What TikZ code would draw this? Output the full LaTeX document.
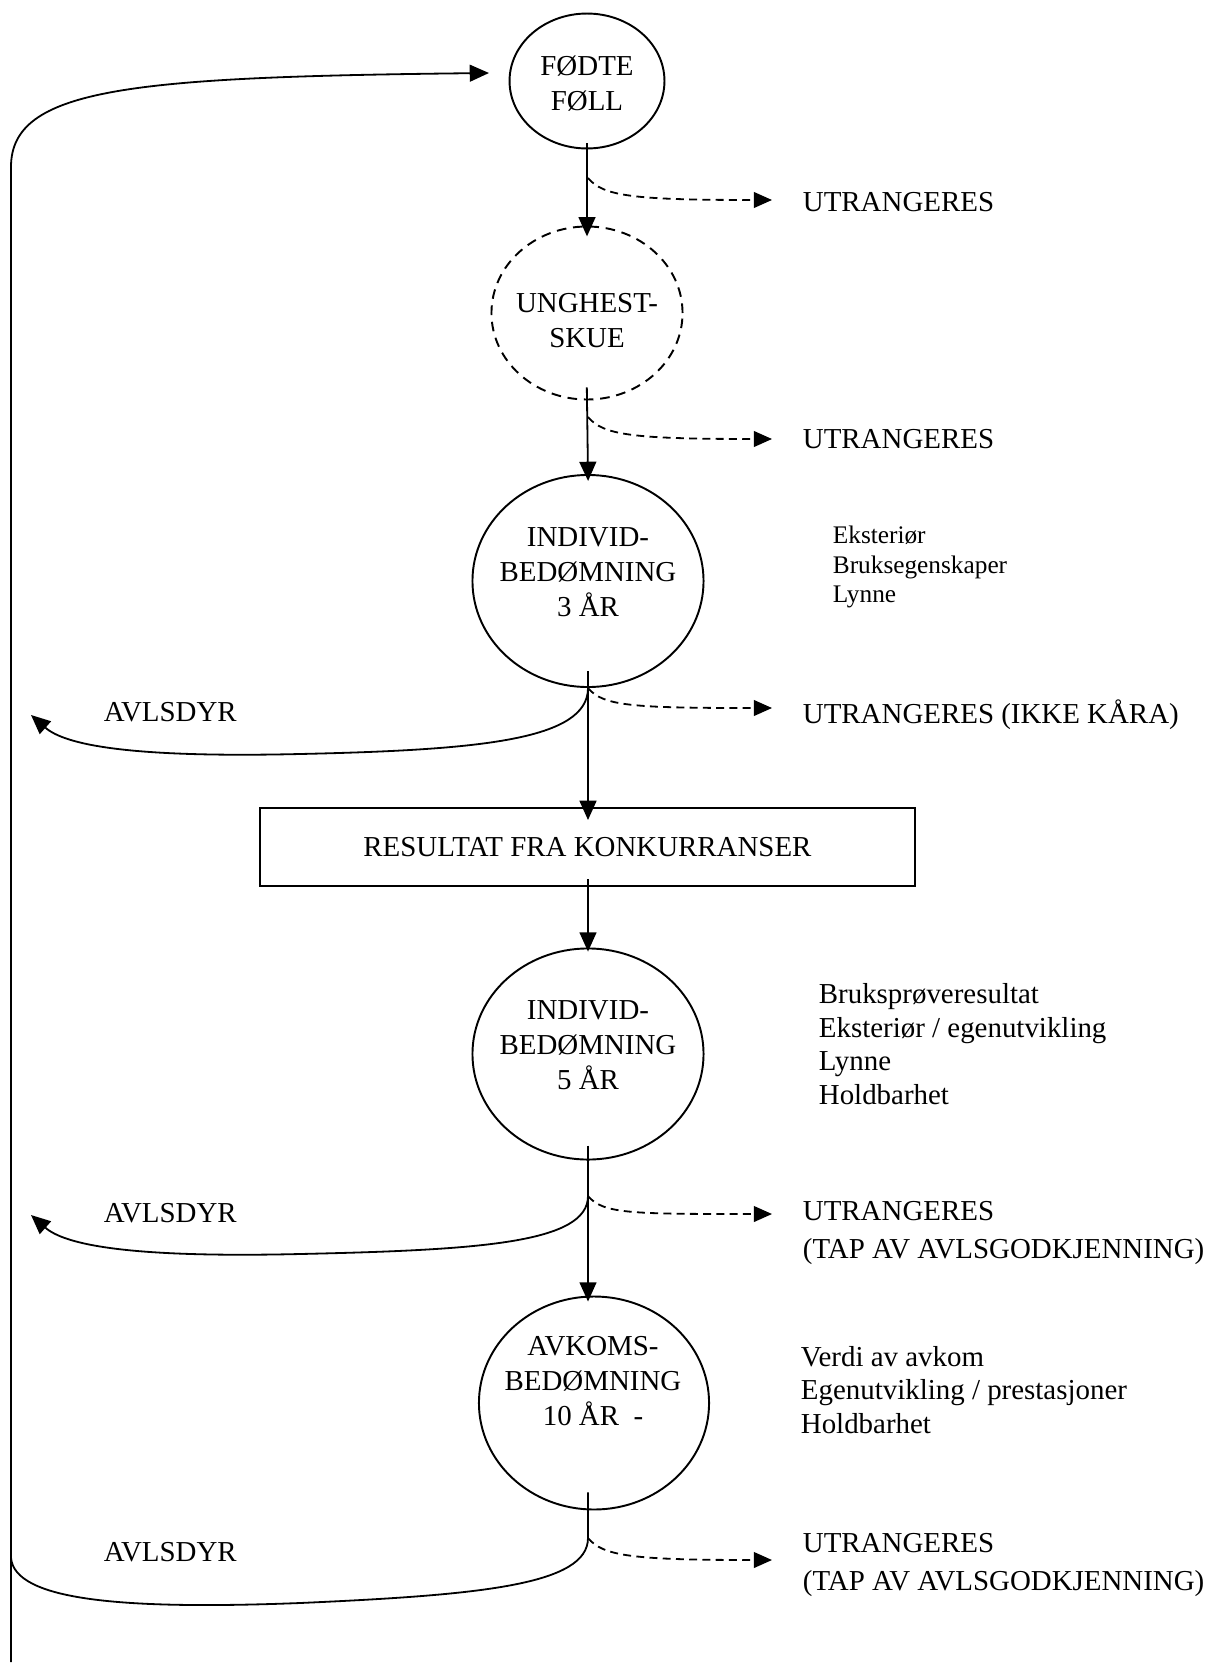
\documentclass[tikz,border=0pt]{standalone}
\usepackage{fontspec}
\setmainfont{Liberation Serif}
\usetikzlibrary{arrows.meta,shapes.geometric,positioning}

\def\midx{588}
\def\tipx{772}
\def\outx{802}
\def\loopx{11}

\begin{document}
\begin{tikzpicture}[x=0.415pt, y=-0.415pt, line width=0.75pt,
    every node/.style={font=\fontsize{12}{14.5}\selectfont},
    stage/.style={draw, ellipse, inner sep=0pt, line width=0.8pt},
    stagetext/.style={align=center, inner sep=0pt},
    flow/.style={-{Triangle[length=8pt,width=7pt]}},
    cut/.style={dash pattern=on 3.3pt off 2.2pt, -{Triangle[length=7.5pt,width=6.5pt]}},
    outtext/.style={anchor=west, inner sep=0pt, align=left},
    facts/.style={anchor=west, inner sep=0pt, align=left, font=\fontsize{12}{14}\selectfont}]
    \useasboundingbox (0,0) rectangle (1222,1673);

    % stages
    \node[stage, minimum width=64.3pt, minimum height=56pt] (foedte) at (587,81) {};
    \node[stagetext] (foedtetext) at (587,84) {FØDTE\\FØLL};
    \node[stage, dash pattern=on 4pt off 2.8pt, minimum width=79.3pt, minimum height=71.8pt] (skue) at (587,313) {};
    \node[stagetext] (skuetext) at (587,321) {UNGHEST-\\SKUE};
    \node[stage, minimum width=95.9pt, minimum height=88pt] (indiv3) at (\midx,581) {};
    \node[stagetext] (indiv3text) at (\midx,572) {INDIVID-\\BEDØMNING\\3 ÅR};
    \node[draw, line width=0.8pt, minimum width=271.8pt, minimum height=32.4pt] (result) at (587.5,847) {RESULTAT FRA KONKURRANSER};
    \node[stage, minimum width=95.9pt, minimum height=87.6pt] (indiv5) at (\midx,1054) {};
    \node[stagetext] (indiv5text) at (\midx,1045) {INDIVID-\\BEDØMNING\\5 ÅR};
    \node[stage, minimum width=95.5pt, minimum height=88.4pt] (avkoms) at (594,1403) {};
    \node[stagetext] (avkomstext) at (593,1381) {AVKOMS-\\BEDØMNING\\10 ÅR\ \ -};

    % notes beside the stages
    \node[facts, font=\fontsize{10.5}{12.4}\selectfont] (notes3) at (832,567) {Eksteriør\\Bruksegenskaper\\Lynne};
    \node[facts] (notes5) at (818,1044) {Bruksprøveresultat\\Eksteriør / egenutvikling\\Lynne\\Holdbarhet};
    \node[facts] (notes10) at (800,1390) {Verdi av avkom\\Egenutvikling / prestasjoner\\Holdbarhet};

    \node[outtext] (out1) at (\outx,202) {UTRANGERES};
    \node[outtext] (out2) at (\outx,439) {UTRANGERES};
    \node[outtext] (out3) at (\outx,715) {UTRANGERES (IKKE KÅRA)};
    \node[outtext, font=\fontsize{12}{15.4}\selectfont] (out4) at (\outx,1233) {UTRANGERES\\(TAP AV AVLSGODKJENNING)};
    \node[outtext, font=\fontsize{12}{15.4}\selectfont] (out5) at (\outx,1565) {UTRANGERES\\(TAP AV AVLSGODKJENNING)};

    \node[outtext] (avls3) at (103,712) {AVLSDYR};
    \node[outtext] (avls5) at (103,1213) {AVLSDYR};
    \node[outtext] (avls10) at (103,1552) {AVLSDYR};

    \coordinate (cut1) at (\midx,178);
    \coordinate (cut2) at (\midx,417);
    \coordinate (cut3) at (\midx,688);
    \coordinate (cut4) at (\midx,1196);
    \coordinate (cut5) at (\midx,1538);
    \coordinate (tip1) at (\tipx,200);
    \coordinate (tip2) at (\tipx,439);
    \coordinate (tip3) at (\tipx,708);
    \coordinate (tip4) at (\tipx,1214);
    \coordinate (tip5) at (\tipx,1560);
    \coordinate (breed3) at (31,715);
    \coordinate (breed5) at (31,1215);
    \coordinate (loopjoin) at (\loopx,1558);
    \coordinate (loopbot) at (\loopx,1662);
    \coordinate (looptop) at (\loopx,167);
    \coordinate (backin) at (489,73);

    % main line
    \draw[flow, shorten <=-2.5pt, shorten >=-4.5pt] (foedte.south) -- (skue.north);
    \draw[flow, shorten <=-5.4pt, shorten >=-2.9pt] (skue.south) -- (indiv3.north);
    \draw[flow, shorten <=-7pt, shorten >=-5.4pt] (indiv3.south) -- (indiv3.south |- result.north);
    \draw[flow, shorten <=-3.3pt, shorten >=-1.7pt] (result.south -| indiv5.north) -- (indiv5.north);
    \draw[flow, shorten <=-6.2pt, shorten >=-2.5pt] (indiv5.south) -- (indiv5.south |- avkoms.north);
    \draw[shorten <=-7.5pt] (avkoms.south -| cut5) -- (cut5) .. controls (588,1585) and (480,1595) .. (300,1603) .. controls (120,1610) and (15,1600) .. (loopjoin);
    \draw[flow] (loopbot) -- (looptop) .. controls (11,88) and (130,77) .. (backin);

    % culled
    \draw[cut] (cut1) .. controls +(15,18) and +(-140,0) .. (tip1);
    \draw[cut] (cut2) .. controls +(15,18) and +(-140,0) .. (tip2);
    \draw[cut] (cut3) .. controls +(15,18) and +(-140,0) .. (tip3);
    \draw[cut] (cut4) .. controls +(15,18) and +(-140,0) .. (tip4);
    \draw[cut] (cut5) .. controls +(15,18) and +(-140,0) .. (tip5);

    % kept for breeding
    \draw[flow] (cut3) .. controls (588,740) and (480,750) .. (300,754) .. controls (130,758) and (65,745) .. (breed3);
    \draw[flow] (cut4) .. controls (588,1243) and (480,1250) .. (300,1254) .. controls (130,1258) and (65,1245) .. (breed5);
\end{tikzpicture}
\end{document}
